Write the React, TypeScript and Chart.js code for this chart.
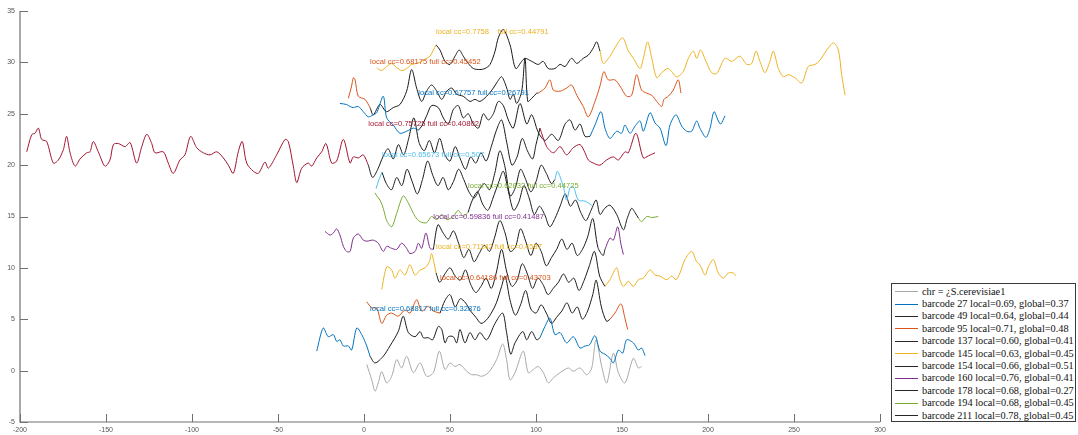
import React, { useEffect, useRef } from "react";
import { Chart, registerables } from "chart.js";
Chart.register(...registerables);

// ---------- data ----------
const xTicks = [-200, -150, -100, -50, 0, 50, 100, 150, 200, 250, 300];
const yTicks = [-5, 0, 5, 10, 15, 20, 25, 30, 35];

const chrLine: number[][] = [[1.6,0.6],[4.5,-0.9],[6.4,-2.0],[8.3,-1.2],[10.3,-0.1],[13.2,-1.2],[16.1,-0.55],[19,1.07],[21.9,0.26],[24.8,1.4],[28.7,-0.2],[32.6,0.75],[36.4,-0.55],[40.3,-0.2],[43.8,1.9],[47.1,0.1],[50,0.75],[52.9,0.4],[55.8,0.6],[59.7,-0.06],[62.6,-0.4],[65.5,-0.4],[68.4,-0.55],[72.3,-0.2],[77.1,1.07],[80.6,2.6],[82.9,1.07],[84.9,-0.9],[87.8,-0.2],[92.6,1.9],[95.5,-0.2],[98.4,0.1],[101.3,0.4],[104.3,-0.2],[107.2,-1.2],[110.1,-0.7],[114,-0.2],[118.8,0.26],[121.7,-0.06],[125.6,0.26],[129.5,-0.4],[132.4,0.26],[134.9,3.0],[138.2,0.4],[141.1,-1.2],[145,1.7],[147.9,-0.2],[151.7,-1.2],[156.6,1.2],[159.5,0.26],[161.4,0.4]];

// barcode 27 (shift 3)
const bc27Left = [[-27.5,1.9],[-23.7,4.15],[-20.8,3.3],[-17.8,3.5],[-15.9,2.85],[-14,3.0],[-12,2.4],[-9.1,2.4],[-7.2,2.0],[-4.2,4.15],[-1.3,3.5],[1.6,2.4],[3.5,1.4]];
const bc27Local = [[3.5,1.4],[6.4,0.75],[11.2,1.4],[15.1,2.4],[19.9,3.8],[22.8,5.3],[25.8,3.7],[29.7,3.3],[32.6,3.8],[34.5,3.2],[37.4,3.2],[39.9,3.0],[43.2,4.3],[45.2,4.0],[47.1,2.7],[49,3.3],[51.9,3.3],[53.9,2.7],[55.8,4.0],[58.7,2.7],[61.6,3.7],[64.5,3.0],[67.4,3.7],[71.3,3.0],[76.2,4.6],[80.6,5.6],[82.9,3.7],[85.3,1.6],[87.8,2.7],[92.3,3.8],[94.6,3.0],[97.5,3.8],[100.4,3.0],[102.3,3.2]];
const bc27Right = [[102.3,3.2],[105.2,4.3],[108.1,5.1],[111,3.5],[114,3.7],[117.8,2.7],[121.7,3.3],[125.6,2.2],[128.5,2.4],[131,2.5],[134.3,3.4],[137.2,1.9],[140.1,1.6],[143,1.2],[145,0.75],[147.9,2.0],[150.4,1.7],[152.7,3.0],[156.6,2.7],[159.5,2.0],[161.4,2.2],[163.4,1.46]];

// barcode 49 (shift 6)
const bc49Left = [[1.6,6.7],[4.5,6.1],[7.4,6.1],[10.3,4.6],[13.2,5.4],[16.1,5.6],[19.9,5.3],[23.8,5.9],[26.7,5.6],[30.6,6.9],[33.5,5.8],[37.4,6.25],[40.3,5.8],[44.2,5.6]];
const bc49Local = [[44.2,5.6],[47,6.8],[50,7.4],[53,6.2],[56,7.0],[59,6.6],[62,5.8],[65,5.2],[68,4.6],[71,4.9],[74,5.6],[77,6.6],[80,8.2],[82,9.2],[85,6.8],[88,5.4],[91,6.4],[94,7.8],[97,6.0],[100,5.6],[103,6.4],[106,5.6],[109,4.6],[112,5.2],[115,5.8],[118,6.6],[121,5.6],[124,6.2],[127,5.0],[130,5.8],[133,7.4],[135,8.8],[138,6.2],[141,4.8],[143,5.0]];
const bc49Right = [[143,5.0],[145.9,5.6],[149.4,6.5],[151.7,5.1],[153.3,4.0]];

// barcode 95 (shift 9)
const bc95Left = [[10.3,7.9],[13.2,10.1],[16.1,9.8],[18,9.0],[20.9,9.8],[23.8,9.3],[26.7,10.3],[29.7,9.3],[32.6,9.8],[35.5,10.0],[38,10.6],[39.3,11.4],[40.7,10.5],[41.9,9.5]];
const bc95Local = [[41.9,9.5],[44,8.6],[47,9.4],[50,10.0],[53,9.2],[56,8.8],[59,9.8],[62,8.4],[65,7.6],[68,8.2],[71,9.0],[74,8.0],[77,9.6],[80,11.8],[83,9.6],[86,8.2],[89,8.8],[92,10.4],[95,9.4],[98,8.0],[101,9.0],[104,8.4],[107,7.4],[110,8.0],[113,8.6],[116,9.4],[119,8.6],[122,9.0],[125,7.8],[128,8.8],[131,10.2],[134,11.6],[137,9.2],[140,8.2]];
const bc95Right = [[140,8.2],[143,8.85],[146.9,10.0],[148.8,8.85],[150.8,8.2],[153.7,8.7],[156.6,8.2],[159.5,8.85],[162.4,9.0],[166.3,9.8],[169.2,9.3],[172.1,9.2],[176,8.85],[178.9,9.2],[181.4,8.85],[183.7,9.5],[186.6,10.8],[190.5,11.6],[193.4,10.6],[195.3,10.3],[198.3,9.3],[200.2,10.1],[203.1,10.8],[206,9.5],[208.9,9.0],[211.8,9.5],[214.7,9.5],[216.3,9.2]];

// barcode 137 (shift 12)
const bc137Left = [[-22.7,13.55],[-19.8,13.2],[-17.8,13.4],[-15.9,13.8],[-14,13.2],[-12,12.1],[-10.1,11.6],[-8.1,11.6],[-6.2,12.9],[-3.3,13.3],[-0.4,12.7],[1.6,12.6],[5.4,12.7],[8.3,12.4],[11.2,11.6],[13.2,12.1],[16.1,11.9],[19,11.8],[21.9,12.4],[24.8,11.9],[26.7,11.4],[29.7,11.6],[31.6,12.4],[33.5,11.9],[36,13.4],[38.4,11.9],[40.3,11.8]];
const bc137Local = [[40.3,11.8],[43,14.2],[46,13.4],[49,12.8],[52,13.6],[55,12.4],[58,11.0],[61,11.8],[64,10.6],[67,11.4],[70,12.2],[73,11.6],[76,13.0],[79,14.6],[82,13.4],[85,11.6],[88,12.0],[91,13.8],[94,12.6],[97,11.2],[100,12.4],[103,11.6],[106,10.2],[109,11.0],[112,11.8],[115,12.8],[118,11.8],[121,12.4],[124,11.2],[127,11.8],[130,13.0],[133,14.8],[136,12.0],[139,11.2],[140.1,11.8]];
const bc137Right = [[140.1,11.8],[143,12.9],[145,12.7],[147.5,14.0],[149.4,12.3],[150.8,11.3]];

// barcode 145 (shift 15)
const bc145Left = [[6.4,17.3],[7.4,17.0],[9.3,16.6],[11.2,15.8],[13.2,14.6],[16.1,14.0],[19,15.3],[22.8,17.0],[25.8,16.3],[29.7,15.0],[32.6,14.5],[36.4,14.4],[39.3,15.0],[42.3,14.7],[45.2,15.2],[48.1,14.7],[51.9,15.0],[54.8,15.6],[57.7,15.0],[60.5,15.4]];
const bc145Local = [[60.5,15.4],[63,16.6],[66,17.4],[69,16.2],[72,15.6],[75,16.8],[78,18.2],[81,19.4],[84,17.4],[87,15.6],[90,16.4],[93,18.0],[96,16.8],[99,15.2],[102,16.0],[105,15.2],[108,14.0],[111,14.8],[114,16.0],[117,17.2],[120,16.0],[123,16.6],[126,15.4],[129,14.6],[132,15.6],[135,16.6],[137.2,15.2],[140,15.8],[143,16.1],[146.9,15.2],[150.8,13.7],[153,14.8],[155.6,15.8],[157.5,15.4],[159.5,14.85]];
const bc145Right = [[159.5,14.85],[161.4,14.5],[164.4,15.0],[167.3,14.9],[171.1,15.0]];

// barcode 154 (shift 18)
const bc154Left = [[7,17.7],[8.7,18.6],[10.5,19.3]];
const bc154Local = [[10.5,19.3],[13,18.2],[16,17.6],[19,18.8],[22,18.0],[25,19.6],[28,18.4],[31,17.2],[34,18.6],[37,20.4],[40,19.0],[43,18.0],[46,18.8],[49,17.6],[52,18.4],[55,19.6],[58,18.6],[61,17.4],[64,16.8],[67,17.6],[70,18.2],[73,17.6],[76,19.2],[79,21.4],[82,19.8],[85,17.0],[88,17.8],[91,19.6],[94,18.6],[97,17.4],[100,18.4],[103,20.0],[106,19.2],[109,18.2],[111,18.6]];
const bc154Right = [[111,18.6],[112.5,19.4],[115.9,17.9],[117.8,16.6],[119.8,17.8],[121.7,17.9],[124.6,16.6],[128.5,16.5],[132.4,16.1]];

// barcode 160 (shift 21)
const bc160Left = [[-196.1,21.3],[-193.2,22.96],[-191.3,23.1],[-189.3,23.6],[-187.4,22.5],[-184.5,22.3],[-180.6,20.2],[-177.7,20.5],[-174.8,21.5],[-172.9,22.8],[-170.9,21.2],[-168,19.9],[-165.1,20.6],[-161.2,21.2],[-159.3,21.3],[-157.4,22.3],[-154.5,21.3],[-150.6,19.9],[-147.7,20.5],[-145.7,22.0],[-142.8,22.1],[-138.9,21.8],[-136,22.2],[-132.2,20.2],[-129.2,21.8],[-126.3,23.0],[-123.4,22.1],[-121.5,21.2],[-116.7,21.3],[-113.8,20.2],[-110.9,19.2],[-107,20.5],[-104.1,21.0],[-100.8,22.8],[-97.3,21.7],[-93.4,21.2],[-89.5,21.0],[-85.6,21.3],[-81.8,20.7],[-78.9,20.0],[-76,19.2],[-73.1,21.3],[-70.8,22.3],[-68.2,20.2],[-64.3,19.4],[-61.4,19.2],[-57.6,20.3],[-55.6,19.7],[-50.8,21.0],[-45.9,22.5],[-44,22.3],[-41.1,19.9],[-39.1,18.3],[-36.2,19.7],[-32.4,20.2],[-30.4,19.9],[-27.5,20.7],[-24.6,21.3],[-22.1,22.1],[-18.8,20.2],[-15.9,20.4],[-12,22.5],[-8.1,20.2],[-6.2,20.8],[-3.3,20.7],[-0.4,21.0],[2.5,20.0]];
const bc160Local = [[2.5,20.0],[5,18.8],[8,19.6],[11,20.8],[14,21.6],[17,20.6],[20,22.0],[23,21.0],[26,22.6],[29,24.6],[32,22.2],[35,21.4],[38,22.4],[41,21.2],[44,22.6],[47,21.0],[50,20.4],[53,21.8],[56,20.6],[59,19.6],[62,20.8],[65,20.2],[68,21.2],[71,20.4],[74,21.8],[77,23.4],[80,24.4],[83,22.2],[86,20.0],[89,20.8],[92,22.6],[95,21.4],[98,20.6],[100,22.0],[102.3,23.6]];
const bc160Right = [[102.3,23.6],[106.2,21.8],[110.1,21.2],[114,21.8],[117.8,21.0],[121.7,21.7],[125.6,22.0],[128.5,21.2],[130.4,20.5],[133.3,20.2],[137.2,20.0],[141,20.5],[145,20.8],[147.9,20.5],[151.7,21.3],[153.7,21.2],[158.1,23.1],[162.4,20.7],[165.3,20.9],[169.2,21.2]];

// barcode 178 (shift 24)
const bc178Left = [[-14,26.0],[-10.1,25.9],[-8.1,25.7],[-6.2,25.6],[-3.3,25.7],[-0.4,25.2],[2.5,24.7],[5.4,24.9],[7.4,25.1],[11.2,26.7],[13.2,24.6],[17,23.9],[20.9,23.1],[24.8,23.3],[28.7,23.6],[31.6,23.4]];
const bc178Local = [[31.6,23.4],[33.6,23.8],[36.4,24.8],[39.3,25.8],[43.2,25.6],[46.1,24.6],[49,24.0],[51.9,25.4],[54.8,25.8],[57.7,24.6],[60.6,25.0],[63.6,24.0],[66.5,23.6],[69.4,25.0],[72.3,24.4],[75.2,25.0],[78.1,26.2],[81,25.8],[83.9,24.4],[86.8,23.6],[90.7,26.0],[94.6,24.0],[97.5,24.9],[101.3,23.2],[105.2,22.4],[109.1,23.0],[113,22.4],[116.9,24.0],[119.8,24.4],[122.7,23.4],[125.6,24.0],[128.5,22.8],[131.4,22.8]];
const bc178Right = [[131.4,22.8],[134.3,23.9],[137.8,25.2],[140.1,23.6],[143,22.6],[146.9,23.3],[149.8,23.1],[151.7,23.9],[154.7,23.1],[157.6,23.8],[160.5,24.3],[162.4,23.3],[166.3,25.1],[169.2,24.1],[172.1,23.6],[175.6,21.9],[177.9,23.9],[181.4,24.9],[184.7,23.8],[187.6,23.3],[190.5,23.3],[193.4,24.3],[195.3,23.6],[198.8,22.7],[201.2,23.6],[203.5,25.2],[206,24.3],[207.4,24.0],[209.9,24.8]];

// barcode 194 (shift 27)
const bc194Left = [[-9.1,26.5],[-7.2,27.7],[-6.2,28.5],[-5.2,28.3],[-3.3,26.7],[0.6,26.4],[3.5,25.6]];
const bc194Local = [[3.5,25.6],[5.4,24.9],[9.3,25.9],[13,25.2],[17,25.6],[20.9,25.9],[24.8,27.2],[27.7,29.3],[30.6,27.5],[33.5,26.2],[36.4,27.2],[39.3,27.8],[42.3,27.2],[45.2,26.4],[48.1,27.2],[51,27.5],[53.9,26.9],[57.7,26.7],[61.6,26.2],[64.5,26.4],[67.4,26.2],[71.3,26.7],[75.2,27.5],[77.5,28.1],[80,28.6],[83,27.5],[84.9,26.4],[86.8,26.9],[88.8,26.0],[91.7,27.2],[93.6,30.4],[95.2,26.2],[97.5,26.5],[100.4,27.0],[101.3,27.0]];
const bc194Right = [[101.3,27.0],[105.2,27.5],[108.1,28.3],[110.1,27.3],[114,27.2],[117.8,27.5],[120.7,27.8],[123.7,26.8],[127.5,25.7],[130.4,24.7],[134.3,26.2],[137.2,27.7],[139.5,29.1],[142,28.3],[145.9,28.3],[148.8,27.7],[152.7,26.7],[155.6,26.8],[158.5,28.8],[161.4,27.3],[164.4,27.0],[167.3,26.8],[170.2,26.2],[173.1,25.7],[174.4,26.4],[176.9,26.7],[179.8,27.3],[182.7,28.3],[184.3,27.0]];

// barcode 211 (shift 30)
const bc211Left = [[7.4,29.5],[10,29.2],[13.2,29.6],[16,29.9],[19,29.5],[22,29.2],[24.8,29.4],[27.7,29.8],[30.6,29.9],[33.5,30.1],[36.4,30.4],[38.4,30.6],[40.3,31.2],[41.9,31.7]];
const bc211Local = [[41.9,31.7],[44.2,31.2],[47.1,30.1],[50,29.8],[52.9,30.6],[55.4,31.2],[57.7,30.6],[60.6,29.9],[63.6,29.4],[67.4,29.3],[70.3,29.4],[73.3,29.8],[76.2,31.1],[78.1,32.4],[81,33.2],[84.9,31.7],[88.2,29.4],[91.7,30.1],[93.6,30.4],[97.5,30.1],[101.3,29.8],[104.2,30.1],[107.1,29.4],[111,29.4],[114,29.8],[116.9,29.6],[120.7,30.4],[123.7,29.9],[127.5,30.4],[130.4,30.7],[133.3,31.4],[135.3,32.0],[137.2,31.1]];
const bc211Right = [[137.2,31.1],[139.1,29.9],[143,30.6],[146.9,31.7],[150.4,32.4],[153.7,31.1],[156.6,30.4],[160.5,29.4],[162.4,30.4],[164.9,32.0],[167.3,30.4],[170.2,28.5],[173.1,29.0],[176.9,29.4],[181.8,28.6],[185.6,29.1],[188.6,30.4],[191.5,31.1],[193.4,30.4],[195.7,31.2],[198.8,30.1],[202.1,29.0],[205,28.9],[209.9,30.4],[213.8,30.1],[218.6,30.6],[222.5,29.8],[225.4,29.9],[227.9,31.1],[230.2,30.1],[233.1,29.0],[236,30.1],[238,31.1],[240.9,29.4],[243.8,28.6],[246.7,28.8],[250.6,28.5],[254.5,28.0],[258.3,29.6],[262.2,29.8],[265.1,30.2],[268.6,31.1],[272.9,31.9],[275.8,31.2],[277.7,28.8],[279.7,26.8]];

const barcodeShifts = [3, 6, 9, 12, 15, 18, 21, 24, 27, 30];
const ccLabels = [
  "local cc=0.68817 full cc=0.32876",
  "local cc=0.64186 full cc=0.43703",
  "local cc=0.71142 full cc=0.4587",
  "local cc=0.59836 full cc=0.41487",
  "local cc=0.62832 full cc=0.44725",
  "local cc=0.65673 full cc=0.507",
  "local cc=0.75725 full cc=0.40802",
  "local cc=0.67757 full cc=0.26791",
  "local cc=0.68175 full cc=0.45452",
  "local cc=0.7758    full cc=0.44791",
];
const legendLabels = [
  "chr = ¿S.cerevisiae1",
  "barcode 27 local=0.69, global=0.37",
  "barcode 49 local=0.64, global=0.44",
  "barcode 95 local=0.71, global=0.48",
  "barcode 137 local=0.60, global=0.41",
  "barcode 145 local=0.63, global=0.45",
  "barcode 154 local=0.66, global=0.51",
  "barcode 160 local=0.76, global=0.41",
  "barcode 178 local=0.68, global=0.27",
  "barcode 194 local=0.68, global=0.45",
  "barcode 211 local=0.78, global=0.45",
];

// ---------- styles ----------
const seriesColors = ["#0072BD", "#D95319", "#EDB120", "#7E2F8E", "#77AC30", "#4DBEEE", "#A2142F", "#0072BD", "#D95319", "#EDB120"];
const legendColors = ["#a8a8a8", "#0072BD", "#262626", "#D95319", "#262626", "#EDB120", "#262626", "#7E2F8E", "#262626", "#77AC30", "#262626"];
const LOCAL_COLOR = "#1a1a1a";
const CHR_COLOR = "#a8a8a8";

const barcodeParts = [
  [bc27Left, bc27Local, bc27Right],
  [bc49Left, bc49Local, bc49Right],
  [bc95Left, bc95Local, bc95Right],
  [bc137Left, bc137Local, bc137Right],
  [bc145Left, bc145Local, bc145Right],
  [bc154Left, bc154Local, bc154Right],
  [bc160Left, bc160Local, bc160Right],
  [bc178Left, bc178Local, bc178Right],
  [bc194Left, bc194Local, bc194Right],
  [bc211Left, bc211Local, bc211Right],
];

const toPts = (arr: number[][]) => arr.map(([x, y]) => ({ x, y }));

export default function App() {
  const ref = useRef<HTMLCanvasElement | null>(null);

  useEffect(() => {
    if (!ref.current) return;
    const datasets: any[] = [];
    const base = { pointRadius: 0, borderWidth: 1, tension: 0.3, fill: false };
    barcodeParts.forEach((parts, i) => {
      datasets.push({ ...base, data: toPts(parts[0]), borderColor: seriesColors[i] });
      datasets.push({ ...base, data: toPts(parts[2]), borderColor: seriesColors[i] });
    });
    barcodeParts.forEach((parts) => {
      datasets.push({ ...base, data: toPts(parts[1]), borderColor: LOCAL_COLOR });
    });
    datasets.push({ ...base, data: toPts(chrLine), borderColor: CHR_COLOR });

    const axesPlugin = {
      id: "matlabAxes",
      afterDraw(chart: any) {
        const { ctx, chartArea: a, scales } = chart;
        ctx.save();
        ctx.strokeStyle = "#707070";
        ctx.lineWidth = 1.2;
        ctx.beginPath();
        ctx.moveTo(a.left, a.top);
        ctx.lineTo(a.left, a.bottom);
        ctx.lineTo(a.right, a.bottom);
        ctx.stroke();
        ctx.lineWidth = 1;
        ctx.beginPath();
        xTicks.forEach((v) => {
          const px = Math.round(scales.x.getPixelForValue(v)) + 0.5;
          ctx.moveTo(px, a.bottom);
          ctx.lineTo(px, a.bottom - 8);
        });
        yTicks.forEach((v) => {
          const py = Math.round(scales.y.getPixelForValue(v)) + 0.5;
          ctx.moveTo(a.left, py);
          ctx.lineTo(a.left + 8, py);
        });
        ctx.stroke();
        ctx.restore();
      },
      afterDatasetsDraw(chart: any) {
        const { ctx, scales } = chart;
        ctx.save();
        ctx.font = '7.6px "Liberation Sans", Arial, sans-serif';
        ctx.textBaseline = "middle";
        ctx.textAlign = "left";
        barcodeParts.forEach((parts, i) => {
          const start = parts[1][0][0];
          ctx.fillStyle = seriesColors[i];
          ctx.fillText(
            ccLabels[i],
            scales.x.getPixelForValue(start),
            scales.y.getPixelForValue(barcodeShifts[i] + 3)
          );
        });
        ctx.restore();
      },
    };

    const chart = new Chart(ref.current, {
      type: "line",
      data: { datasets },
      options: {
        animation: false,
        responsive: false,
        devicePixelRatio: 1,
        layout: { padding: { top: 11, right: 198, left: 0, bottom: 0 } },
        plugins: { legend: { display: false }, tooltip: { enabled: false } },
        scales: {
          x: {
            type: "linear",
            min: -200,
            max: 300,
            afterBuildTicks: (s: any) => { s.ticks = xTicks.map((v) => ({ value: v })); },
            afterFit: (s: any) => { s.height = 13; },
            grid: { display: false, drawTicks: false },
            border: { display: false },
            ticks: { padding: 4, color: "#555", font: { size: 7, family: '"Liberation Sans", Arial, sans-serif' }, maxRotation: 0, autoSkip: false },
          },
          y: {
            type: "linear",
            min: -5,
            max: 35,
            afterBuildTicks: (s: any) => { s.ticks = yTicks.map((v) => ({ value: v })); },
            afterFit: (s: any) => { s.width = 20; },
            grid: { display: false, drawTicks: false },
            border: { display: false },
            ticks: { padding: 5, color: "#555", font: { size: 7, family: '"Liberation Sans", Arial, sans-serif' }, autoSkip: false },
          },
        },
      },
      plugins: [axesPlugin],
    });
    return () => chart.destroy();
  }, []);

  return (
    <div style={{ position: "absolute", left: 0, top: 0, width: 1078, height: 435, background: "#fff" }}>
      <canvas ref={ref} width={1078} height={435} style={{ display: "block" }} />
      <div
        style={{
          position: "absolute",
          left: 891,
          top: 283,
          width: 185,
          height: 139,
          border: "1px solid #3a3a3a",
          background: "#fff",
          boxSizing: "border-box",
          paddingTop: 1.5,
        }}
      >
        {legendLabels.map((t, i) => (
          <div key={i} style={{ display: "flex", alignItems: "center", height: 12.4, whiteSpace: "nowrap" }}>
            <span style={{ display: "inline-block", width: 23, height: 0, borderTop: `1px solid ${legendColors[i]}`, marginLeft: 3, marginRight: 4 }} />
            <span style={{ fontFamily: '"Liberation Serif", "Times New Roman", serif', fontSize: 10.3, color: "#111", lineHeight: "12px" }}>{t}</span>
          </div>
        ))}
      </div>
    </div>
  );
}
